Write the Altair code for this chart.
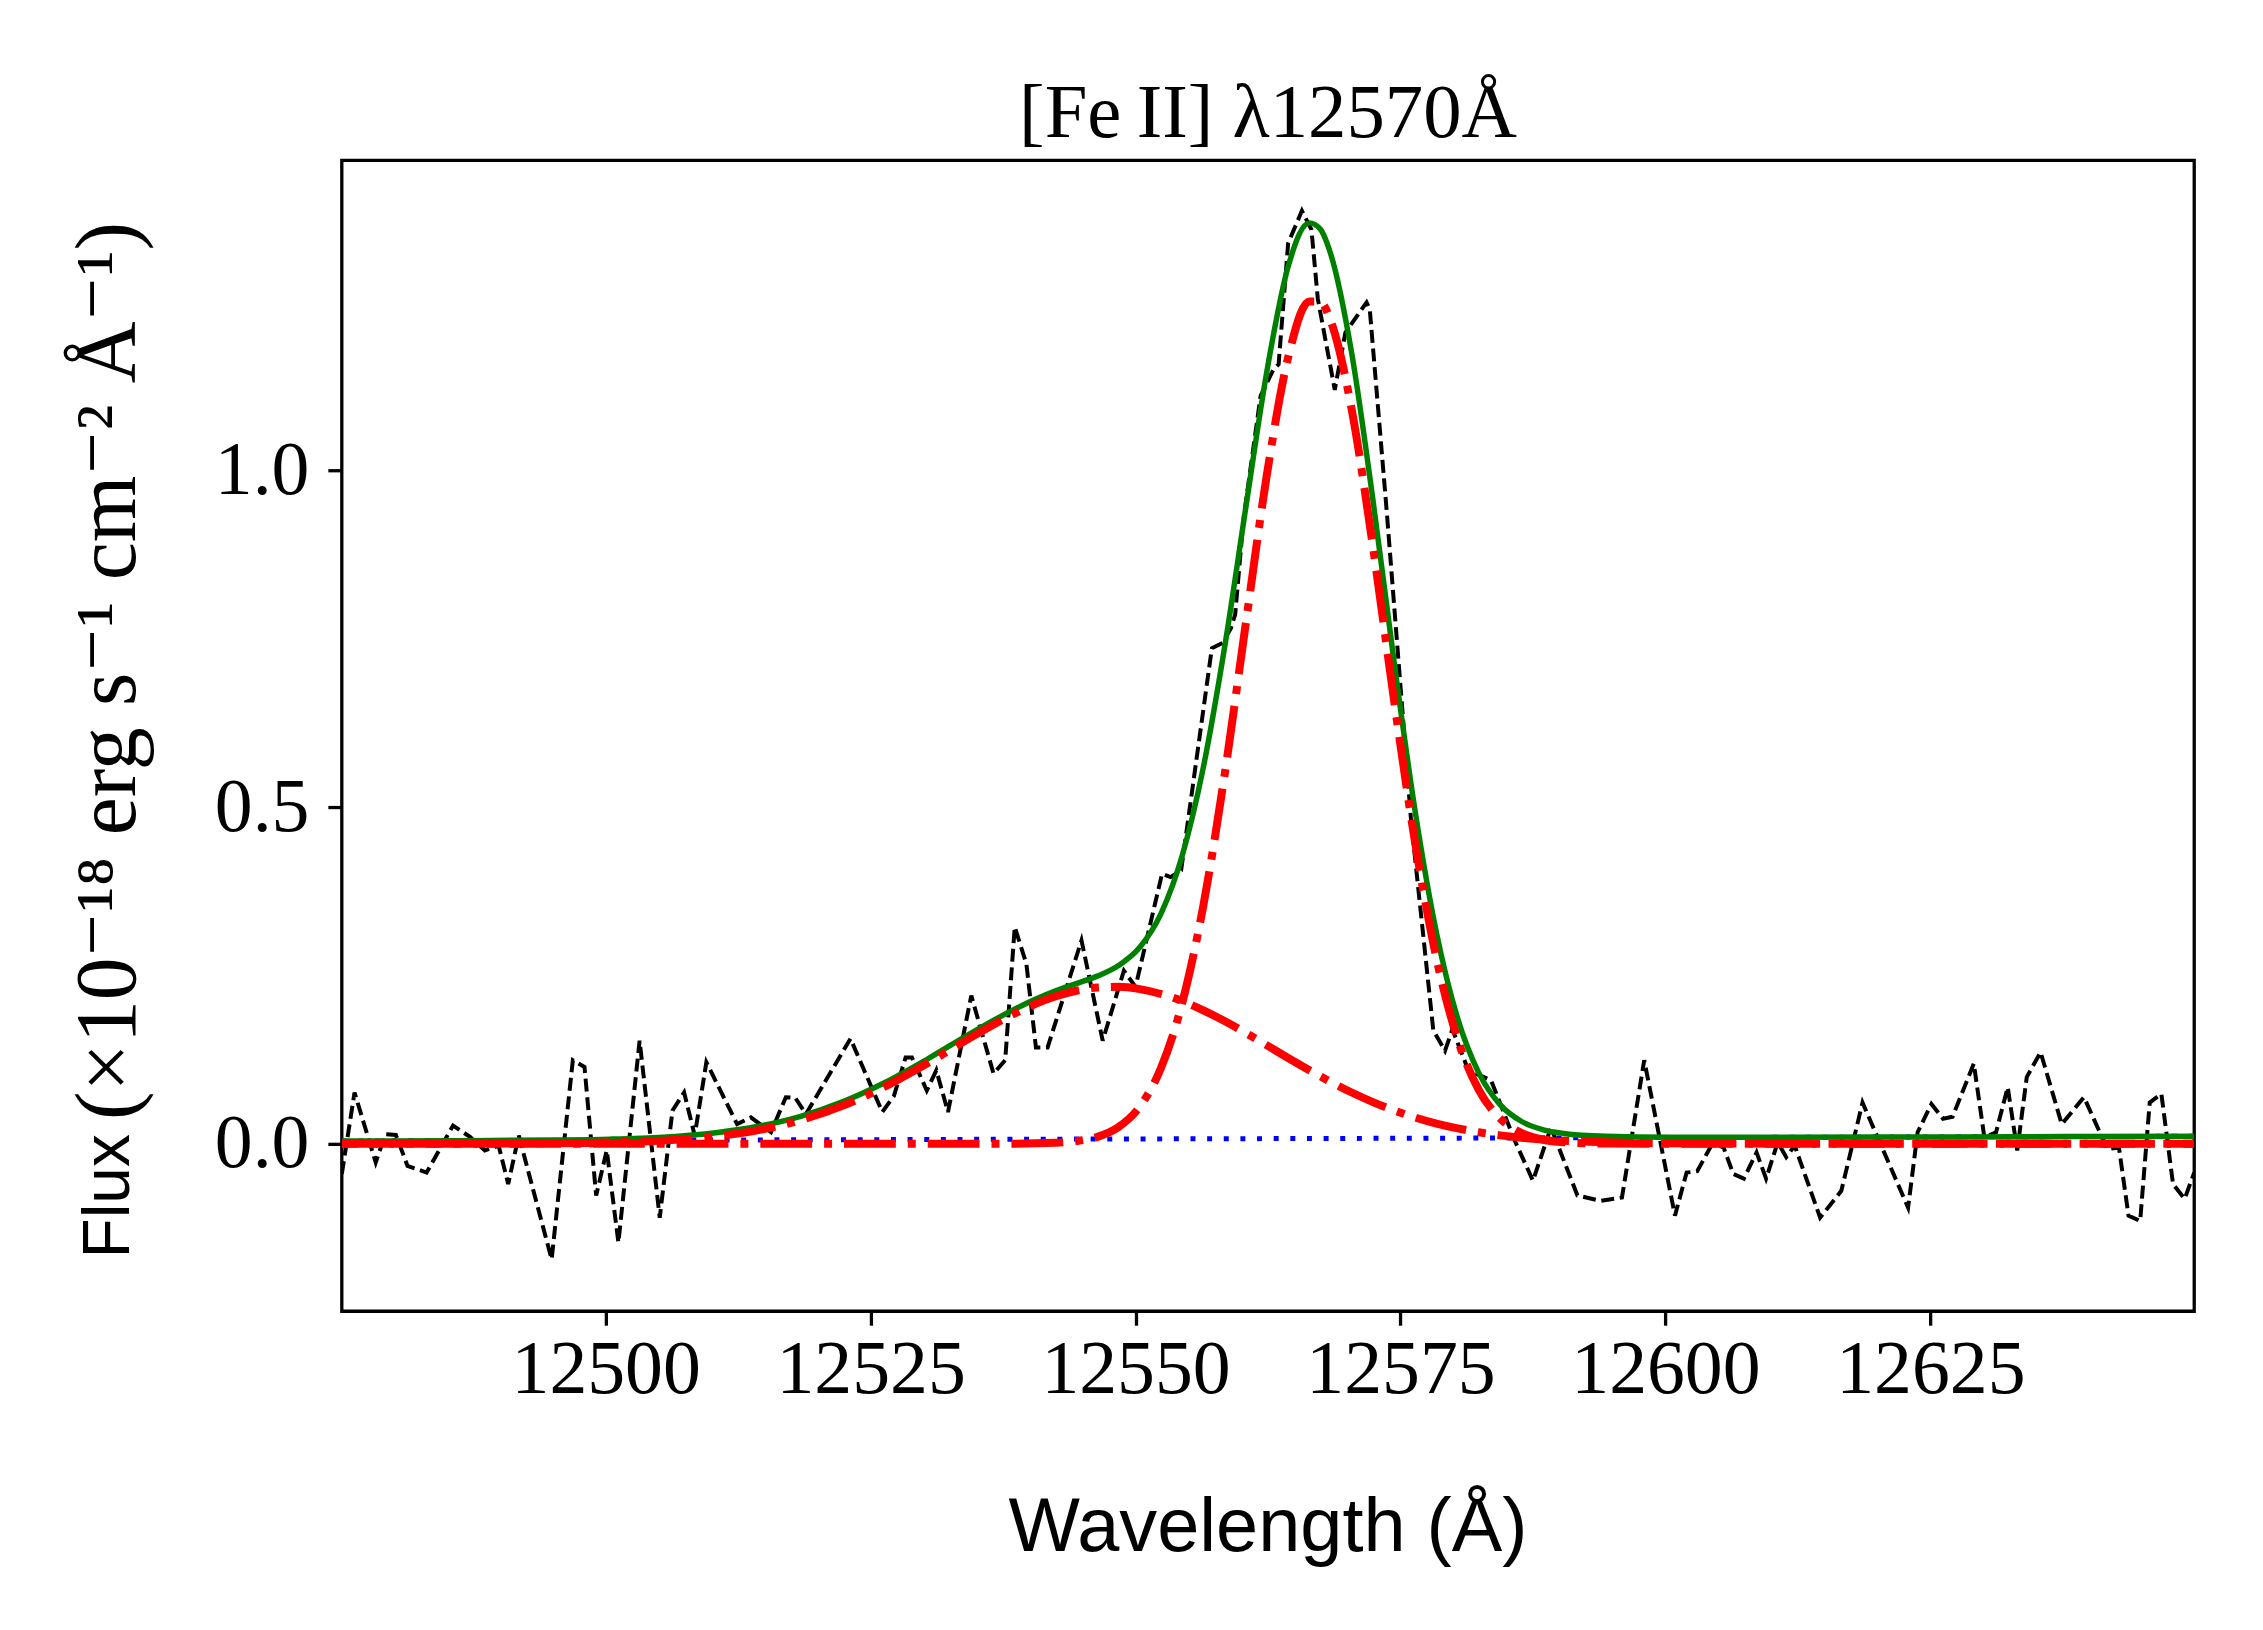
import altair as alt
import pandas as pd

obs_wavelength = [
    12475.1, 12476.3, 12478.3, 12479.2, 12480.2, 12481.3, 12483.1, 12485.6, 12487.2, 12488.6,
    12489.9, 12490.8, 12491.8, 12494.9, 12496.9, 12498.0, 12499.1, 12500.1, 12501.2, 12503.2,
    12505.1, 12506.3, 12507.4, 12508.4, 12509.5, 12512.4, 12513.7, 12515.6, 12517.0, 12517.9,
    12518.9, 12523.1, 12526.1, 12527.2, 12528.3, 12528.9, 12530.3, 12531.2, 12532.3, 12534.5,
    12536.6, 12537.7, 12538.6, 12539.7, 12540.6, 12541.7, 12544.9, 12546.9, 12548.9, 12550.0,
    12552.5, 12553.3, 12554.3, 12557.2, 12558.2, 12559.0, 12559.4, 12560.2, 12561.8, 12563.0,
    12563.5, 12564.4, 12565.7, 12566.6, 12567.2, 12568.8, 12569.8, 12571.8, 12572.1, 12573.7,
    12576.0, 12578.1, 12579.2, 12579.9, 12581.4, 12583.55, 12584.8, 12585.8, 12587.5, 12589.2,
    12591.7, 12593.9, 12595.9, 12598.0, 12600.9, 12602.0, 12603.0, 12604.5, 12605.5, 12606.4,
    12607.4, 12608.6, 12609.5, 12610.6, 12611.4, 12612.2, 12614.6, 12616.6, 12618.6, 12622.9,
    12623.8, 12625.1, 12626.2, 12627.1, 12629.1, 12630.1, 12631.2, 12632.3, 12633.2, 12634.1,
    12635.4, 12637.4, 12639.5, 12641.7, 12642.8, 12643.7, 12644.8, 12645.7, 12646.8, 12647.9,
    12649.0, 12649.9,
]
obs_flux = [
    -0.045, 0.076, -0.028, 0.014, 0.013, -0.033, -0.043, 0.027, 0.010, -0.010,
    -0.003, -0.060, 0.012, -0.172, 0.124, 0.114, -0.077, -0.010, -0.147, 0.153,
    -0.110, 0.049, 0.076, 0.012, 0.121, 0.029, 0.039, 0.017, 0.069, 0.068,
    0.044, 0.156, 0.047, 0.071, 0.128, 0.128, 0.079, 0.109, 0.047, 0.220,
    0.104, 0.124, 0.322, 0.267, 0.143, 0.143, 0.302, 0.153, 0.257, 0.233,
    0.401, 0.396, 0.406, 0.736, 0.744, 0.766, 0.786, 0.930, 1.111, 1.150,
    1.158, 1.338, 1.386, 1.358, 1.255, 1.120, 1.205, 1.250, 1.240, 0.940,
    0.480, 0.168, 0.138, 0.170, 0.109, 0.094, 0.044, 0.004, -0.055, 0.024,
    -0.077, -0.085, -0.080, 0.124, -0.107, -0.043, -0.041, 0.002, -0.006, -0.045,
    -0.052, -0.013, -0.052, 0.002, -0.020, -0.003, -0.110, -0.070, 0.061, -0.095,
    0.017, 0.059, 0.037, 0.040, 0.119, 0.009, 0.017, 0.084, -0.010, 0.099,
    0.136, 0.029, 0.069, -0.008, -0.006, -0.107, -0.115, 0.061, 0.074, -0.060,
    -0.082, -0.043,
]

# ---- model curves ----
model_wavelength = [
    12475.1, 12485.4, 12495.4, 12500.4, 12505.4, 12510.4, 12514.4, 12518.4, 12522.4, 12526.4,
    12530.4, 12534.4, 12538.4, 12542.4, 12544.4, 12546.4, 12548.4, 12550.4, 12552.4, 12554.4,
    12556.4, 12558.4, 12560.4, 12562.4, 12564.4, 12566.4, 12567.4, 12568.4, 12570.4, 12572.4,
    12574.4, 12576.4, 12578.4, 12580.4, 12582.4, 12584.4, 12586.4, 12588.4, 12590.4, 12594.4,
    12600.4, 12610.4, 12625.4, 12649.9,
]
narrow_component = [
    0.0, 0.0, 0.0, 0.0, 0.0, 0.0, 0.0, 0.0, 0.0, 0.0,
    0.0, 0.0, 0.0, 0.0013, 0.0038, 0.0101, 0.0247, 0.0551, 0.1123, 0.2088,
    0.3540, 0.5477, 0.7727, 0.9947, 1.1682, 1.2514, 1.2514, 1.2230, 1.0904, 0.8869,
    0.6580, 0.4454, 0.2750, 0.1549, 0.0796, 0.0373, 0.0160, 0.0062, 0.0022, 0.0002,
    0.0, 0.0, 0.0, 0.0,
]
broad_component = [
    0.0, 0.0, 0.0006, 0.0017, 0.0045, 0.0109, 0.0202, 0.0350, 0.0566, 0.0853,
    0.1199, 0.1572, 0.1919, 0.2186, 0.2272, 0.2320, 0.2330, 0.2296, 0.2224, 0.2118,
    0.1981, 0.1821, 0.1645, 0.1460, 0.1273, 0.1091, 0.1004, 0.0919, 0.0760, 0.0618,
    0.0494, 0.0388, 0.0299, 0.0227, 0.0169, 0.0123, 0.0089, 0.0063, 0.0044, 0.0020,
    0.0005, 0.0, 0.0, 0.0,
]
continuum = [
    0.0040, 0.0044, 0.0048, 0.0050, 0.0052, 0.0054, 0.0056, 0.0057, 0.0059, 0.0060,
    0.0062, 0.0064, 0.0065, 0.0067, 0.0068, 0.0068, 0.0069, 0.0070, 0.0071, 0.0072,
    0.0072, 0.0073, 0.0074, 0.0075, 0.0076, 0.0076, 0.0077, 0.0077, 0.0078, 0.0079,
    0.0080, 0.0080, 0.0081, 0.0082, 0.0083, 0.0084, 0.0084, 0.0085, 0.0086, 0.0088,
    0.0090, 0.0094, 0.0100, 0.0110,
]
total_model = [
    0.0040, 0.0044, 0.0054, 0.0067, 0.0097, 0.0163, 0.0258, 0.0407, 0.0625, 0.0913,
    0.1261, 0.1636, 0.1984, 0.2266, 0.2378, 0.2489, 0.2646, 0.2917, 0.3418, 0.4278,
    0.5593, 0.7371, 0.9446, 1.1482, 1.3031, 1.3681, 1.3595, 1.3226, 1.1742, 0.9566,
    0.7154, 0.4922, 0.3130, 0.1858, 0.1048, 0.0580, 0.0333, 0.0210, 0.0152, 0.0110,
    0.0095, 0.0094, 0.0100, 0.0110,
]

x_ticks = [12500, 12525, 12550, 12575, 12600, 12625]
y_ticks = [0.0, 0.5, 1.0]

title_text = "[Fe\u2009II] \u03bb12570\u00c5"
x_label = "Wavelength (\u00c5)"
y_label_word = "Flux"
y_label_unit = "(\u00d710\u207b\u00b9\u2078 erg s\u207b\u00b9 cm\u207b\u00b2 \u00c5\u207b\u00b9)"

W, H = 1859, 1155
SERIF = "Liberation Serif, DejaVu Serif, serif"
SANS = "Liberation Sans, DejaVu Sans, sans-serif"

obs_df = pd.DataFrame({"wl": obs_wavelength, "flux": obs_flux})
model_df = pd.DataFrame({
    "wl": model_wavelength,
    "narrow": narrow_component,
    "broad": broad_component,
    "cont": continuum,
    "total": total_model,
})

xs = alt.Scale(domain=[12475.1, 12649.9], nice=False, zero=False)
ys = alt.Scale(domain=[-0.249, 1.461], nice=False, zero=False)

xa = alt.Axis(values=x_ticks, format="d", title=None, grid=False, domain=False,
              ticks=True, tickSize=14, tickWidth=3.3, tickColor="black",
              labelFont=SERIF, labelFontSize=76, labelColor="black", labelLimit=1000,
              labelPadding=8, labelFlush=False, labelOverlap=False)
ya = alt.Axis(values=y_ticks, format=".1f", title=None, grid=False, domain=False,
              ticks=True, tickSize=14, tickWidth=3.3, tickColor="black",
              labelFont=SERIF, labelFontSize=76, labelColor="black", labelLimit=1000,
              labelPadding=19, labelFlush=False, labelOverlap=False)


def line(df, field, color, width, dash=None, interp="linear", dash_offset=None):
    kw = dict(color=color, strokeWidth=width, interpolate=interp, clip=True, strokeCap="butt")
    if dash:
        kw["strokeDash"] = dash
    if dash_offset is not None:
        kw["strokeDashOffset"] = dash_offset
    return alt.Chart(df).mark_line(**kw).encode(
        x=alt.X("wl:Q", scale=xs, axis=xa),
        y=alt.Y(f"{field}:Q", scale=ys, axis=ya),
    )


def label(text, x, y, font, size, angle=0, align="center", baseline="alphabetic"):
    return alt.Chart(pd.DataFrame({"t": [text]})).mark_text(
        font=font, fontSize=size, angle=angle, align=align, baseline=baseline,
        color="black",
    ).encode(text="t:N", x=alt.value(x), y=alt.value(y))


data_line = line(obs_df, "flux", "black", 4.0, dash=[13, 5.7])
cont_line = line(model_df, "cont", "#0000ff", 5, dash=[5, 11.7])
total_line = line(model_df, "total", "#008000", 5.5, interp="monotone")
narrow_line = line(model_df, "narrow", "#ff0000", 8, dash=[52, 12, 8, 12], interp="monotone")
broad_line = line(model_df, "broad", "#ff0000", 8, dash=[52, 12, 8, 12], interp="monotone",
                  dash_offset=36)

title_mark = label(title_text, W / 2, -23, SERIF, 77)
xlabel_mark = label(x_label, W / 2, 1396, SANS, 76)
ylabel_word = label(y_label_word, -234, 1102, SANS, 66, angle=270, align="left", baseline="middle")
ylabel_unit = label(y_label_unit, -234, 963, SERIF, 86, angle=270, align="left", baseline="middle")

chart = alt.layer(
    data_line, cont_line, total_line, narrow_line, broad_line,
    title_mark, xlabel_mark, ylabel_word, ylabel_unit,
).properties(
    width=W, height=H,
    padding={"left": 335, "top": 150, "right": 61, "bottom": 317},
    autosize=alt.AutoSizeParams(type="none"),
    background="white",
).configure_view(stroke="black", strokeWidth=3.3)

chart.save("out.html", embed_options={"renderer": "svg", "actions": False})
